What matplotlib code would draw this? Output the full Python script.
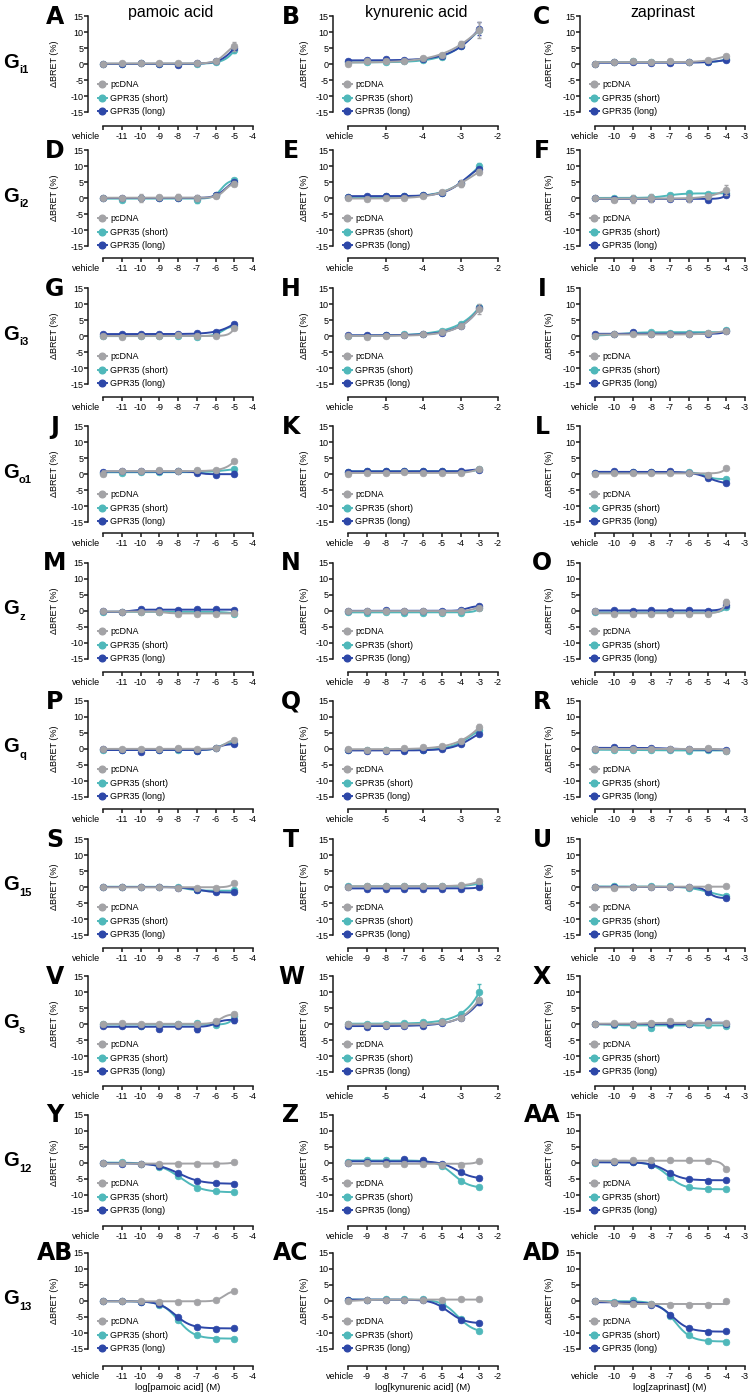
import numpy as np
import matplotlib
matplotlib.use("Agg")
import matplotlib.pyplot as plt
from matplotlib.lines import Line2D
from matplotlib.transforms import ScaledTranslation

plt.rcParams['font.family'] = ['Liberation Sans', 'DejaVu Sans']

# ---- x values (log M); first entry is the vehicle point ----
pam_x = [-12, -11, -10, -9, -8, -7, -6, -5]
zap_x = [-11, -10, -9, -8, -7, -6, -5, -4]
kyn_x_half = [-6, -5.5, -5, -4.5, -4, -3.5, -3, -2.5]
kyn_x_full = [-10, -9, -8, -7, -6, -5, -4, -3]

pam_ticks = [-12, -11, -10, -9, -8, -7, -6, -5, -4]
pam_ticklabels = ['vehicle', '-11', '-10', '-9', '-8', '-7', '-6', '-5', '-4']
zap_ticks = [-11, -10, -9, -8, -7, -6, -5, -4, -3]
zap_ticklabels = ['vehicle', '-10', '-9', '-8', '-7', '-6', '-5', '-4', '-3']
kyn_ticks_half = [-6, -5, -4, -3, -2]
kyn_ticklabels_half = ['vehicle', '-5', '-4', '-3', '-2']
kyn_ticks_full = [-10, -9, -8, -7, -6, -5, -4, -3, -2]
kyn_ticklabels_full = ['vehicle', '-9', '-8', '-7', '-6', '-5', '-4', '-3', '-2']

ligands = ['pamoic acid', 'kynurenic acid', 'zaprinast']
xlabels = ['log[pamoic acid] (M)', 'log[kynurenic acid] (M)', 'log[zaprinast] (M)']
g_subscripts = ['i1', 'i2', 'i3', 'o1', 'z', 'q', '15', 's', '12', '13']
letters = [['A', 'B', 'C'], ['D', 'E', 'F'], ['G', 'H', 'I'], ['J', 'K', 'L'],
           ['M', 'N', 'O'], ['P', 'Q', 'R'], ['S', 'T', 'U'], ['V', 'W', 'X'],
           ['Y', 'Z', 'AA'], ['AB', 'AC', 'AD']]
kyn_half_rows = [0, 1, 2, 5, 7]
series_names = ['pcDNA', 'GPR35 (short)', 'GPR35 (long)']

# ---- ΔBRET (%) values: pcDNA, short, long ----
A_pc = [0, 0.2, 0.2, 0.2, 0.2, 0.2, 1.0, 5.5]
A_sh = [0, 0, 0.2, 0, 0, 0.1, 0.5, 4.3]
A_lg = [0, 0.1, 0.3, 0, -0.3, 0.2, 0.8, 5.0]
B_pc = [0, 0.8, 0.8, 1.0, 1.8, 2.8, 6.2, 10.5]
B_sh = [0.5, 0.6, 0.5, 0.8, 1.2, 2.2, 5.5, 10.5]
B_lg = [1.0, 1.2, 1.5, 1.2, 1.5, 2.5, 5.5, 11.0]
C_pc = [0, 0.5, 0.8, 0.7, 0.8, 0.7, 1.1, 2.5]
C_sh = [0.1, 0.6, 0.8, 0.6, 0.6, 0.6, 0.6, 1.6]
C_lg = [0.1, 0.5, 0.6, 0.3, 0.4, 0.5, 0.6, 1.2]

D_pc = [0, 0, 0, 0.2, 0.3, 0, 0.5, 4.5]
D_sh = [0, -0.5, 0, 0, 0, -0.7, 1.0, 5.5]
D_lg = [0, 0, 0, 0, 0, 0, 0.8, 5.0]
E_pc = [0, -0.4, 0, 0, 0.5, 1.8, 4.5, 8.2]
E_sh = [0.2, 0.2, 0.5, 0.5, 0.8, 1.6, 4.8, 10.0]
E_lg = [0.3, 0.5, 0.7, 0.7, 1.0, 1.6, 4.8, 9.2]
F_pc = [0, -0.5, -0.4, 0, 0, 0, 0.5, 2.5]
F_sh = [0, 0, 0, 0.3, 0.8, 1.5, 1.3, 1.5]
F_lg = [0, -0.3, -0.3, -0.3, -0.3, -0.3, -0.5, 1.0]

G_pc = [0, -0.2, 0, 0, 0.2, 0, 0, 2.5]
G_sh = [0, 0, 0, 0, 0.1, -0.3, 0.5, 3.0]
G_lg = [0.5, 0.6, 0.7, 0.7, 0.5, 0.8, 1.4, 3.8]
H_pc = [0, -0.3, 0.1, 0.2, 0.5, 1.2, 3.0, 8.5]
H_sh = [0.1, 0.1, 0.3, 0.5, 0.6, 1.6, 3.8, 9.0]
H_lg = [0.2, 0.2, 0.3, 0.3, 0.6, 1.0, 3.2, 8.6]
I_pc = [0, 0.5, 0.6, 0.6, 0.6, 0.5, 0.8, 1.6]
I_sh = [0.1, 0.6, 0.8, 1.2, 1.0, 1.0, 1.0, 1.8]
I_lg = [0.6, 0.6, 1.2, 0.7, 0.5, 0.6, 0.6, 1.6]

J_pc = [0, 1.0, 1.0, 1.2, 1.0, 1.2, 1.2, 4.0]
J_sh = [0.3, 0.3, 0.6, 0.6, 0.8, 0.8, 0.8, 1.5]
J_lg = [0.7, 0.8, 0.8, 0.8, 0.8, 0.4, -0.2, 0.1]
K_pc = [0, 0.3, 0.4, 0.5, 0.3, 0.4, 0.4, 1.6]
K_sh = [0.6, 1.0, 0.9, 1.0, 1.0, 0.8, 0.7, 1.5]
K_lg = [0.7, 0.8, 1.0, 0.8, 0.8, 0.8, 0.9, 1.4]
L_pc = [0, 0.3, 0.3, 0.3, 0.3, 0.3, -0.3, 2.0]
L_sh = [0.2, 0.5, 0.5, 0.5, 0.5, 0.5, -0.8, -1.6]
L_lg = [0.3, 1.0, 0.7, 0.5, 0.8, 0.4, -1.2, -2.8]

M_pc = [0, -0.3, -0.2, -0.3, -0.8, -0.8, -0.8, -0.6]
M_sh = [-0.2, -0.4, -0.2, -0.2, -0.2, -0.3, -0.3, -0.8]
M_lg = [-0.1, -0.4, 0.6, 0.4, 0.3, 0.5, 0.5, 0.2]
N_pc = [0, 0, 0, 0, 0, -0.3, 0, 1.0]
N_sh = [-0.2, -0.5, -0.3, -0.5, -0.5, -0.5, -0.5, 0.8]
N_lg = [0, -0.1, 0.4, 0, 0, 0, 0.3, 1.5]
O_pc = [0, -0.8, -0.8, -0.8, -0.8, -0.8, -1.0, 2.8]
O_sh = [-0.3, -0.5, -0.5, -0.5, -0.5, -0.5, -0.5, 1.2]
O_lg = [0.1, 0.2, 0.1, 0.3, 0.0, 0.3, 0.1, 1.8]

P_pc = [0, 0, 0, 0, 0.2, 0, 0.3, 2.8]
P_sh = [-0.2, -0.3, -0.3, -0.3, -0.3, -0.5, 0.3, 2.0]
P_lg = [0, -0.2, -0.8, -0.3, 0, -0.6, 0.3, 1.5]
Q_pc = [0, -0.3, -0.4, 0.3, 0.5, 0.8, 2.5, 6.8]
Q_sh = [-0.3, -0.3, -0.3, -0.3, -0.2, 0.3, 2.0, 5.8]
Q_lg = [-0.4, -0.5, -0.5, -0.5, -0.3, 0, 1.5, 4.8]
R_pc = [0, 0, 0, 0, 0, 0, 0.3, -0.5]
R_sh = [-0.2, -0.3, -0.3, -0.4, -0.4, -0.6, -0.3, -0.5]
R_lg = [0.1, 0.6, 0.3, 0.4, 0, 0, 0, -0.4]

S_pc = [0, 0, 0, 0, -0.2, -0.3, -0.2, 1.3]
S_sh = [0.1, 0.1, 0.1, 0, -0.1, -1.0, -1.3, -1.0]
S_lg = [0, 0, 0, 0, -0.2, -0.8, -1.6, -1.7]
T_pc = [0, 0.3, 0.3, 0.3, 0.3, 0.3, 0.5, 1.8]
T_sh = [0.2, 0.2, 0.2, 0.2, 0.2, 0.2, 0.3, 1.0]
T_lg = [0, -0.5, -0.5, -0.6, -0.5, -0.5, -0.5, 0]
U_pc = [0, -0.2, 0, 0.1, 0.1, 0, 0.1, 0.2]
U_sh = [0, 0.2, 0.1, 0.2, 0.2, -0.3, -1.5, -2.8]
U_lg = [0, 0.1, 0, 0, 0, 0, -1.5, -3.5]

V_pc = [0, 0.2, 0, 0, 0, 0, 0.8, 3.0]
V_sh = [-0.1, -0.2, -0.6, -0.2, -0.1, 0.2, -0.2, 2.5]
V_lg = [-0.5, -0.6, -0.6, -1.5, -0.6, -1.5, 0.3, 1.3]
W_pc = [0, -0.2, -0.3, -0.2, 0, 0.5, 2.0, 7.5]
W_sh = [0.1, 0.1, 0, 0.2, 0.6, 1.0, 3.2, 10.0]
W_lg = [-0.5, -0.8, -0.5, -0.5, -0.6, 0.2, 2.0, 7.0]
X_pc = [0, 0.3, 0, 0.3, 0.8, 0.2, 0.2, 0.2]
X_sh = [-0.1, -0.3, -0.3, -1.2, -0.3, 0, -0.3, -0.5]
X_lg = [0, 0, 0, 0, 0, 0, 0.8, 0]

Y_pc = [0, 0, -0.2, -0.4, -0.3, -0.2, -0.3, 0.3]
Y_sh = [0, 0.4, -0.2, -1.2, -4.0, -7.8, -8.8, -9.0]
Y_lg = [0, -0.4, -0.2, -0.8, -3.2, -5.5, -6.2, -6.5]
Z_pc = [0, 0, -0.2, -0.3, -0.3, -0.5, -0.5, 0.7]
Z_sh = [0.3, 1.0, 1.0, 0.8, 0.6, -0.8, -5.5, -7.5]
Z_lg = [0, 0.3, 0.4, 1.1, 0.8, -0.3, -2.8, -4.7]
AA_pc = [0.3, 0.5, 0.8, 1.0, 1.0, 0.8, 0.7, -2.0]
AA_sh = [0, 0.3, 0.3, -0.5, -4.5, -7.5, -8.2, -8.2]
AA_lg = [0.2, 0.2, 0.2, -0.5, -3.0, -5.0, -5.5, -5.3]

AB_pc = [0, 0, 0, -0.2, -0.2, -0.3, 0.3, 3.0]
AB_sh = [0, 0, -0.3, -1.2, -5.8, -10.5, -11.8, -11.8]
AB_lg = [0, 0, -0.4, -1.0, -5.0, -8.2, -8.6, -8.3]
AC_pc = [0, 0.3, 0.4, 0.4, 0.4, 0.4, 0.5, 0.5]
AC_sh = [0.2, 0.3, 0.5, 0.5, 0.7, -1.0, -5.5, -9.3]
AC_lg = [0.3, 0.3, 0.4, 0.4, 0.4, -1.8, -5.8, -6.8]
AD_pc = [0, -0.5, -1.0, -1.0, -1.2, -1.2, -1.2, 0]
AD_sh = [0, -0.2, 0.2, -1.0, -4.6, -10.5, -12.5, -12.8]
AD_lg = [0, -0.5, -0.5, -1.2, -4.3, -8.3, -9.6, -9.5]

# ---- visible error bars (SEM), other points have bars hidden by markers ----
A_pc_sd = [0, 0, 0, 0, 0, 0, 0.4, 1.5]
A_sh_sd = [0, 0, 0, 0, 0, 0, 0, 1.0]
B_pc_sd = [0, 0, 0, 0, 0, 0, 1.0, 2.5]
B_lg_sd = [0, 0, 0, 0, 0, 0, 0, 2.0]
D_pc_sd = [0, 0, 1.2, 0.8, 0.9, 0.9, 0.5, 0.8]
D_sh_sd = [0, 0, 0, 0, 0, 1.0, 0, 0]
E_pc_sd = [0, 0, 0, 0, 0, 0, 1.0, 1.0]
E_sh_sd = [0, 0, 0, 0, 0, 0, 0, 1.0]
F_pc_sd = [0, 0, 1.3, 1.2, 1.0, 1.2, 0.8, 1.5]
H_pc_sd = [0, 0, 0, 0, 0, 0, 0, 1.5]
J_lg_sd = [0, 0, 0, 0, 0, 0, 0, 0.8]
O_pc_sd = [0, 0, 0, 0, 0, 0, 0, 1.0]
Q_pc_sd = [0, 0, 0, 0, 0, 0, 0, 1.0]
V_lg_sd = [0, 0, 0, 0.6, 0, 1.0, 0, 1.0]
W_sh_sd = [0, 0, 0, 0, 0, 0, 0, 2.5]
W_lg_sd = [0, 0, 0, 0, 0, 0, 0, 1.0]
X_pc_sd = [0, 0, 0, 0, 0, 0.8, 0, 0]
X_sh_sd = [0, 0, 0, 0.7, 0, 0, 0, 0]

g = globals()
responses = {L: (g[L + '_pc'], g[L + '_sh'], g[L + '_lg']) for row in letters for L in row}
errors = {(L, i): g[L + suf + '_sd'] for L in responses for i, suf in enumerate(['_pc', '_sh', '_lg'])
          if L + suf + '_sd' in g}

colors = ['#a3a3a6', '#4fb8ba', '#2d47a8']
zorders = [5, 3, 4]


def sigmoid_fit(x, y):
    # simple 4-parameter logistic fit, grid over logEC50 / hill, linear in bottom/top
    x = np.asarray(x, float)
    y = np.asarray(y, float)
    best = None
    for h in (0.75, 1.0, 1.5, 2.0):
        for c in np.arange(x[0] - 1, x[-1] + 3, 0.05):
            s = 1 / (1 + 10 ** ((c - x) * h))
            A = np.column_stack([1 - s, s])
            coef = np.linalg.lstsq(A, y, rcond=None)[0]
            sse = np.sum((A @ coef - y) ** 2)
            if best is None or sse < best[0] - 1e-9:
                best = (sse, c, h, coef)
    _, c, h, (bot, top) = best
    xs = np.linspace(x[0], x[-1], 200)
    s = 1 / (1 + 10 ** ((c - xs) * h))
    return xs, bot + (top - bot) * s


W, H = 750, 1394
fig = plt.figure(figsize=(W / 100, H / 100), dpi=100)

col_left = [103, 348, 595]
ax_w, ax_h = 150, 96
row_top = [16, 150, 288, 426, 563, 701, 839, 976, 1115, 1253]
row_spine = [126, 258, 397, 533, 672, 809, 948, 1086, 1226, 1366]
ylabel_dx = [-44, -39, -41]
vehicle_dx = [-3, 6, 4]
letter_cx = [55, 291, 542]
FS = 6.5
MS = 4.8
LW = 1.4

for r in range(10):
    axc = row_top[r] + ax_h / 2
    fig.text(3 / W, 1 - (axc + 3.5) / H, 'G', fontsize=14.5, fontweight='bold',
             ha='left', va='baseline')
    fig.text(19 / W, 1 - (axc + 9) / H, g_subscripts[r], fontsize=8, fontweight='bold',
             ha='left', va='baseline')
    for c in range(3):
        L = letters[r][c]
        ax = fig.add_axes([col_left[c] / W, 1 - (row_top[r] + ax_h) / H, ax_w / W, ax_h / H])
        if c == 0:
            x, ticks, tlabels = pam_x, pam_ticks, pam_ticklabels
        elif c == 2:
            x, ticks, tlabels = zap_x, zap_ticks, zap_ticklabels
        elif r in kyn_half_rows:
            x, ticks, tlabels = kyn_x_half, kyn_ticks_half, kyn_ticklabels_half
        else:
            x, ticks, tlabels = kyn_x_full, kyn_ticks_full, kyn_ticklabels_full

        for i in [1, 2, 0]:
            y = responses[L][i]
            xs, ys = sigmoid_fit(x, y)
            ax.plot(xs, ys, color=colors[i], lw=LW, zorder=zorders[i], clip_on=False)
            if (L, i) in errors:
                sd = np.array(errors[(L, i)])
                m = sd > 0
                ax.errorbar(np.array(x)[m], np.array(y)[m], yerr=sd[m], fmt='none',
                            ecolor=colors[i], elinewidth=1.0, capsize=1.6, capthick=1.0,
                            zorder=zorders[i], clip_on=False)
            ax.plot(x, y, 'o', color=colors[i], ms=MS, mec=colors[i], mew=0.5,
                    zorder=zorders[i] + 0.5, clip_on=False)

        ax.set_xlim(ticks[0], ticks[-1])
        ax.set_ylim(-15, 15)
        ax.set_yticks([-15, -10, -5, 0, 5, 10, 15])
        ax.set_yticklabels(['-15', '-10', '-5', '0', '5', '10', '15'])
        ax.set_xticks(ticks)
        ax.set_xticklabels(tlabels)
        for s in ['top', 'right']:
            ax.spines[s].set_visible(False)
        for s in ['left', 'bottom']:
            ax.spines[s].set_linewidth(1.1)
            ax.spines[s].set_color('#1a1a1a')
        ax.spines['left'].set_position(('outward', 15 * 0.72))
        off = row_spine[r] - (row_top[r] + ax_h)
        ax.spines['bottom'].set_position(('outward', off * 0.72))
        ax.tick_params(axis='both', direction='out', length=2.6, width=1.1,
                       labelsize=FS, color='#1a1a1a')
        ax.tick_params(axis='x', pad=1.6)
        ax.tick_params(axis='y', pad=0.6)
        ax.patch.set_visible(False)

        vl = ax.get_xticklabels()[0]
        vl.set_horizontalalignment('right')
        vl.set_transform(vl.get_transform() +
                         ScaledTranslation(vehicle_dx[c] / 100, 0, fig.dpi_scale_trans))

        ax.set_ylabel('ΔBRET (%)', fontsize=FS)
        ax.yaxis.set_label_coords(ylabel_dx[c] / ax_w, 0.5)

        handles = [Line2D([], [], color=colors[i], marker='o', ms=MS, lw=LW) for i in range(3)]
        ax.legend(handles, series_names, loc='upper left', bbox_to_anchor=(-0.035, 0.33),
                  frameon=False, fontsize=FS, handlelength=1.0, handletextpad=0.4,
                  labelspacing=0.5, borderpad=0, borderaxespad=0)

        if r == 9:
            ax.set_xlabel(xlabels[c], fontsize=6.8, labelpad=1.5)

        fig.text(letter_cx[c] / W, 1 - (row_top[r] - 1 + 8.5) / H, L, fontsize=17,
                 fontweight='bold', family='DejaVu Sans', ha='center', va='baseline')
        if r == 0:
            fig.text((col_left[c] + ax_w / 2 - 7) / W, 1 - 12 / H, ligands[c],
                     fontsize=11.5, ha='center', va='center')

fig.savefig('out.png', dpi=100)
